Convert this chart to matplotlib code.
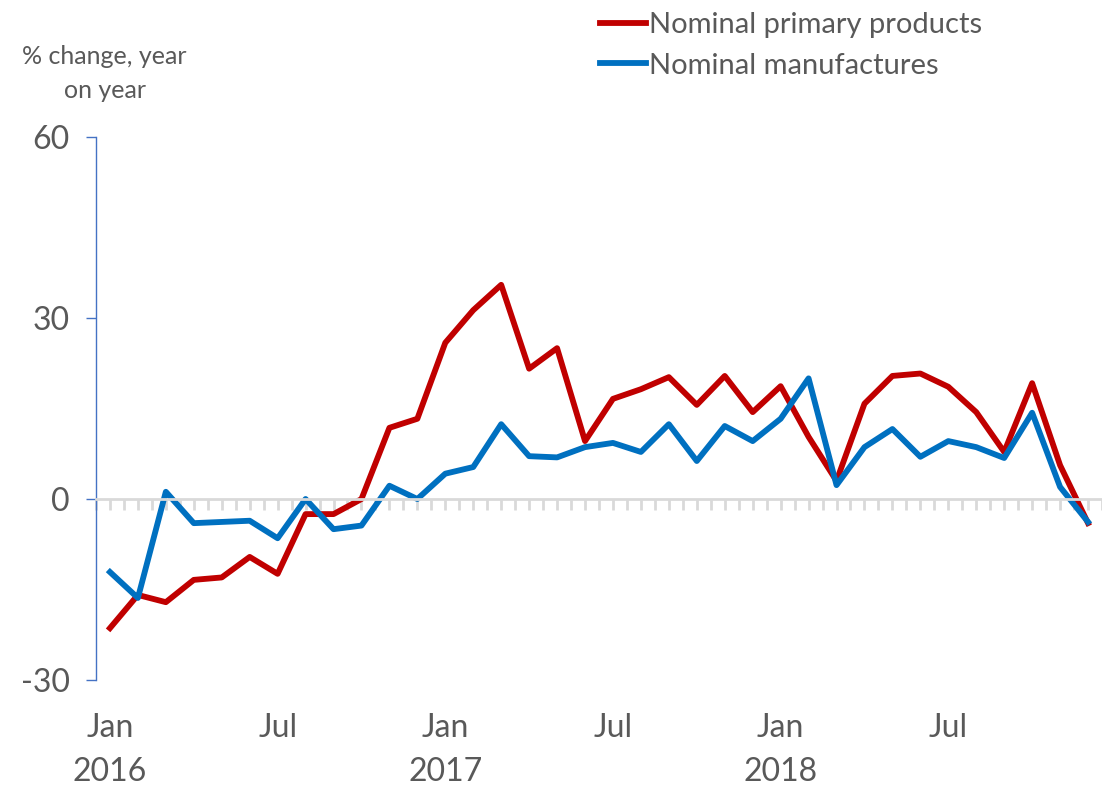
import numpy as np
import matplotlib.pyplot as plt

plt.rcParams['font.family'] = ['Lato', 'DejaVu Sans']

# monthly values, Jan 2016 - Dec 2018
primary = [-21.4, -15.9, -17.1, -13.4, -13.0, -9.6, -12.4, -2.5, -2.5, 0.0, 11.8, 13.3,
           25.9, 31.3, 35.5, 21.6, 25.0, 9.6, 16.6, 18.2, 20.2, 15.6, 20.4, 14.4,
           18.7, 10.3, 3.0, 15.8, 20.4, 20.8, 18.6, 14.4, 7.8, 19.2, 5.6, -4.0]
manufactures = [-12.1, -16.4, 1.2, -4.0, -3.8, -3.6, -6.5, 0.0, -5.0, -4.4, 2.2, 0.0,
                4.2, 5.3, 12.4, 7.1, 6.9, 8.6, 9.3, 7.8, 12.4, 6.3, 12.1, 9.6,
                13.3, 20.0, 2.3, 8.6, 11.6, 7.0, 9.6, 8.6, 6.8, 14.3, 2.0, -3.8]
label_pos = [0, 6, 12, 18, 24, 30]
label_text = ['Jan\n2016', 'Jul', 'Jan\n2017', 'Jul', 'Jan\n2018', 'Jul']
yticks = [-30, 0, 30, 60]

grey = '#595959'
x = np.arange(len(primary))

fig = plt.figure(figsize=(11.02, 7.91), dpi=100)
ax = fig.add_axes([0.0871, 0.1403, 0.9129, 0.6865])

ax.plot(x, primary, color='#C00000', lw=4.2, label='Nominal primary products')
ax.plot(x, manufactures, color='#0070C0', lw=4.2, label='Nominal manufactures')

ax.set_xlim(-0.5, 35.5)
ax.set_ylim(-30, 60)

for s in ['top', 'right']:
    ax.spines[s].set_visible(False)
ax.spines['left'].set_color('#4472C4')
ax.spines['left'].set_linewidth(1.0)
ax.spines['bottom'].set_position(('data', 0))
ax.spines['bottom'].set_color('#D9D9D9')
ax.spines['bottom'].set_linewidth(2)

ax.set_yticks(yticks)
ax.set_yticklabels([str(v) for v in yticks])
ax.tick_params(axis='y', colors='#4472C4', length=7, width=1, labelcolor=grey,
               labelsize=23, pad=12)

ax.set_xticks(np.arange(-0.5, 35.6, 0.5))
ax.tick_params(axis='x', colors='#D9D9D9', length=8, width=2, labelbottom=False)

for p, t in zip(label_pos, label_text):
    ax.text(p, -0.06, t, transform=ax.get_xaxis_transform(), ha='center', va='top',
            fontsize=23, color=grey, linespacing=1.6)

fig.text(0.095, 0.907, '% change, year\non year', ha='center', va='center',
         fontsize=18, color=grey, linespacing=1.6)

fig.legend(loc='upper left', bbox_to_anchor=(0.521, 1.018), frameon=False,
           fontsize=21, labelcolor=grey, handlelength=1.55, handletextpad=0.1,
           labelspacing=0.5)

fig.savefig('out.png', dpi=100)
